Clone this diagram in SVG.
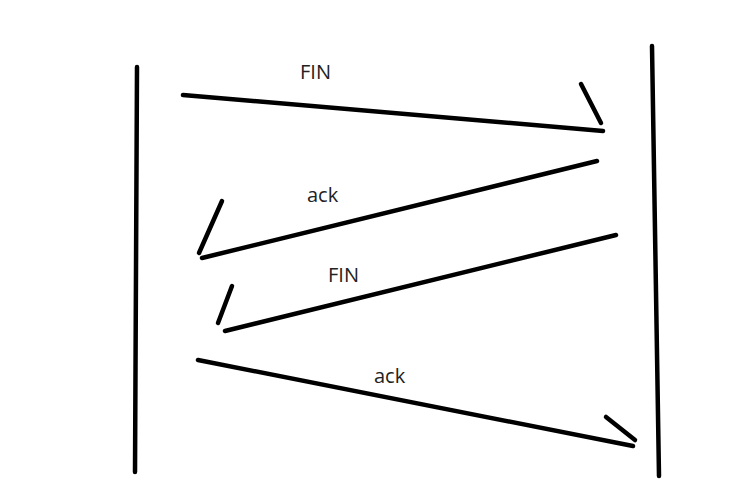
<svg xmlns="http://www.w3.org/2000/svg" width="741" height="497" viewBox="0 0 741 497">
<style>
.ln{stroke:#000;stroke-width:4.5;stroke-linecap:round;fill:none}
.lbl{font-family:"Open Sans","Noto Sans","Liberation Sans",sans-serif;font-size:20px;fill:#222}
</style>
<rect width="741" height="497" fill="#fff"/>
<g id="host-left"><path class="ln" d="M137,67 L136,270 L135,472"/></g>
<g id="host-right"><path class="ln" d="M652,46 L659,476"/></g>
<g id="connectors">
<g id="msg1"><line class="ln" x1="183" y1="95" x2="603" y2="131"/><line class="ln" x1="581" y1="84" x2="601" y2="123"/><text class="lbl" x="300" y="79">FIN</text></g>
<g id="msg2"><line class="ln" x1="597" y1="161" x2="202" y2="258"/><line class="ln" x1="222" y1="201" x2="199" y2="253"/><text class="lbl" x="307" y="202">ack</text></g>
<g id="msg3"><line class="ln" x1="616" y1="235" x2="225" y2="331"/><line class="ln" x1="232" y1="286" x2="218" y2="323"/><text class="lbl" x="328" y="282">FIN</text></g>
<g id="msg4"><line class="ln" x1="198" y1="360" x2="633" y2="446"/><line class="ln" x1="606" y1="417" x2="635" y2="440"/><text class="lbl" x="374" y="383">ack</text></g>
</g>
</svg>
